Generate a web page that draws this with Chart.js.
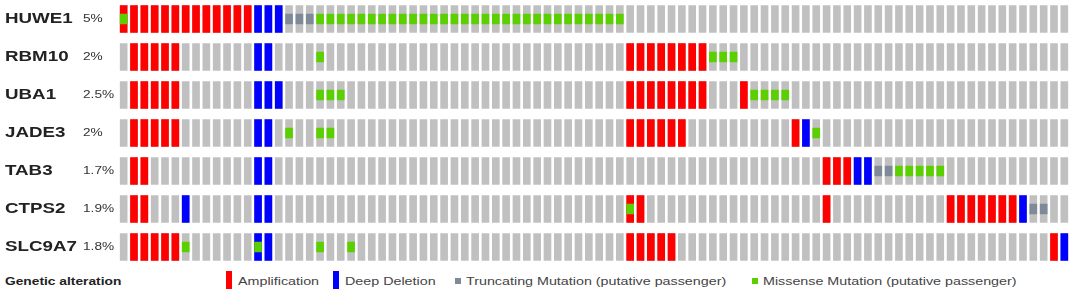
<!DOCTYPE html>
<html>
<head>
<meta charset="utf-8">
<script src="https://cdn.jsdelivr.net/npm/chart.js@4/dist/chart.umd.min.js"></script>
<style>
  html, body { margin: 0; padding: 0; background: #fff; }
  #wrap { position: relative; width: 1075px; height: 299px; overflow: hidden; }
  #cv { position: absolute; left: 0; top: 0; }
  .lg { position: absolute; white-space: nowrap; font-family: "Liberation Sans", Arial, sans-serif; transform-origin: 0 50%; transform: scaleX(1.3); line-height: 14px; }
  .sw { position: absolute; }
</style>
</head>
<body>
<div id="wrap">
  <canvas id="cv" width="1075" height="266"></canvas>
  <div class="lg" style="left:5px; top:274px; font-weight:bold; font-size:10.6px; color:#222;">Genetic alteration</div>
  <div class="sw" style="left:226px; top:271px; width:6px; height:18px; background:#ff0000;"></div>
  <div class="lg" style="left:238px; top:274px; font-size:11px; color:#444;">Amplification</div>
  <div class="sw" style="left:333px; top:271px; width:6px; height:18px; background:#0000ff;"></div>
  <div class="lg" style="left:345px; top:274px; font-size:11px; color:#444;">Deep Deletion</div>
  <div class="sw" style="left:455px; top:278px; width:6px; height:6px; background:#7f8a99;"></div>
  <div class="lg" style="left:466px; top:274px; font-size:11px; color:#444;">Truncating Mutation (putative passenger)</div>
  <div class="sw" style="left:752px; top:278px; width:6px; height:6px; background:#5bd000;"></div>
  <div class="lg" style="left:763px; top:274px; font-size:11px; color:#444;">Missense Mutation (putative passenger)</div>
</div>
<script>
// ---- data ----
const genes = ['HUWE1', 'RBM10', 'UBA1', 'JADE3', 'TAB3', 'CTPS2', 'SLC9A7'];
const percents = ['5%', '2%', '2.5%', '2%', '1.7%', '1.9%', '1.8%'];
const sampleCount = 92;

// column (sample) indices per gene for each alteration type
const ampCols = [
  [0, 1, 2, 3, 4, 5, 6, 7, 8, 9, 10, 11, 12],
  [1, 2, 3, 4, 5, 49, 50, 51, 52, 53, 54, 55, 56],
  [1, 2, 3, 4, 5, 49, 50, 51, 52, 53, 54, 55, 56, 60],
  [1, 2, 3, 4, 5, 49, 50, 51, 52, 53, 54, 65],
  [1, 2, 68, 69, 70],
  [1, 2, 49, 50, 68, 80, 81, 82, 83, 84, 85, 86],
  [1, 2, 3, 4, 5, 49, 50, 51, 52, 53, 90]
];
const delCols = [
  [13, 14, 15],
  [13, 14],
  [13, 14, 15],
  [13, 14, 66],
  [13, 14, 71, 72],
  [6, 13, 14, 87],
  [13, 14, 91]
];
const truncCols = [
  [16, 17, 18],
  [],
  [],
  [],
  [73, 74],
  [88, 89],
  []
];
const missCols = [
  [0, 19, 20, 21, 22, 23, 24, 25, 26, 27, 28, 29, 30, 31, 32, 33, 34, 35, 36, 37, 38, 39, 40, 41, 42, 43, 44, 45, 46, 47, 48],
  [19, 57, 58, 59],
  [19, 20, 21, 61, 62, 63, 64],
  [16, 19, 20, 67],
  [75, 76, 77, 78, 79],
  [49],
  [6, 13, 19, 22]
];

// ---- build ----
const CELL_H = 0.355, MUT_H = 0.13;
function cells(lists, half) {
  const out = [];
  lists.forEach((cols, r) => cols.forEach(c => out.push({ x: c, y: [r - half, r + half] })));
  return out;
}
const bgLists = genes.map(() => Array.from({ length: sampleCount }, (_, i) => i));

const common = { grouped: false, barThickness: 7, borderWidth: 0, borderSkipped: false };
const datasets = [
  Object.assign({ label: 'Missense Mutation (putative passenger)', data: cells(missCols, MUT_H), backgroundColor: '#5bd000' }, common),
  Object.assign({ label: 'Truncating Mutation (putative passenger)', data: cells(truncCols, MUT_H), backgroundColor: '#7f8a99' }, common),
  Object.assign({ label: 'Deep Deletion', data: cells(delCols, CELL_H), backgroundColor: '#0000ff' }, common),
  Object.assign({ label: 'Amplification', data: cells(ampCols, CELL_H), backgroundColor: '#ff0000' }, common),
  Object.assign({ label: 'No alteration', data: cells(bgLists, CELL_H), backgroundColor: '#c0c0c0' }, common)
];

const labelPlugin = {
  id: 'rowLabels',
  afterDraw(chart) {
    const ctx = chart.ctx, y = chart.scales.y;
    genes.forEach((g, r) => {
      const py = y.getPixelForValue(r);
      ctx.save();
      ctx.translate(5, py + 0.5);
      ctx.scale(1.34, 1);
      ctx.font = 'bold 14px "Liberation Sans", Arial, sans-serif';
      ctx.textBaseline = 'middle';
      ctx.fillStyle = '#222';
      ctx.fillText(g, 0, 0);
      ctx.restore();
      ctx.save();
      ctx.translate(83, py + 0.5);
      ctx.scale(1.3, 1);
      ctx.font = '10.5px "Liberation Sans", Arial, sans-serif';
      ctx.textBaseline = 'middle';
      ctx.fillStyle = '#333';
      ctx.fillText(percents[r], 0, 0);
      ctx.restore();
    });
  }
};

new Chart(document.getElementById('cv'), {
  type: 'bar',
  data: { datasets },
  options: {
    responsive: false,
    animation: false,
    events: [],
    layout: { padding: { left: 118.5, right: 5.5, top: 0, bottom: 0 } },
    plugins: { legend: { display: false }, tooltip: { enabled: false } },
    scales: {
      x: { type: 'linear', min: -0.5, max: sampleCount - 0.5, display: false, offset: false },
      y: { type: 'linear', min: -0.5, max: genes.length - 0.5, reverse: true, display: false }
    }
  },
  plugins: [labelPlugin]
});
</script>
</body>
</html>
